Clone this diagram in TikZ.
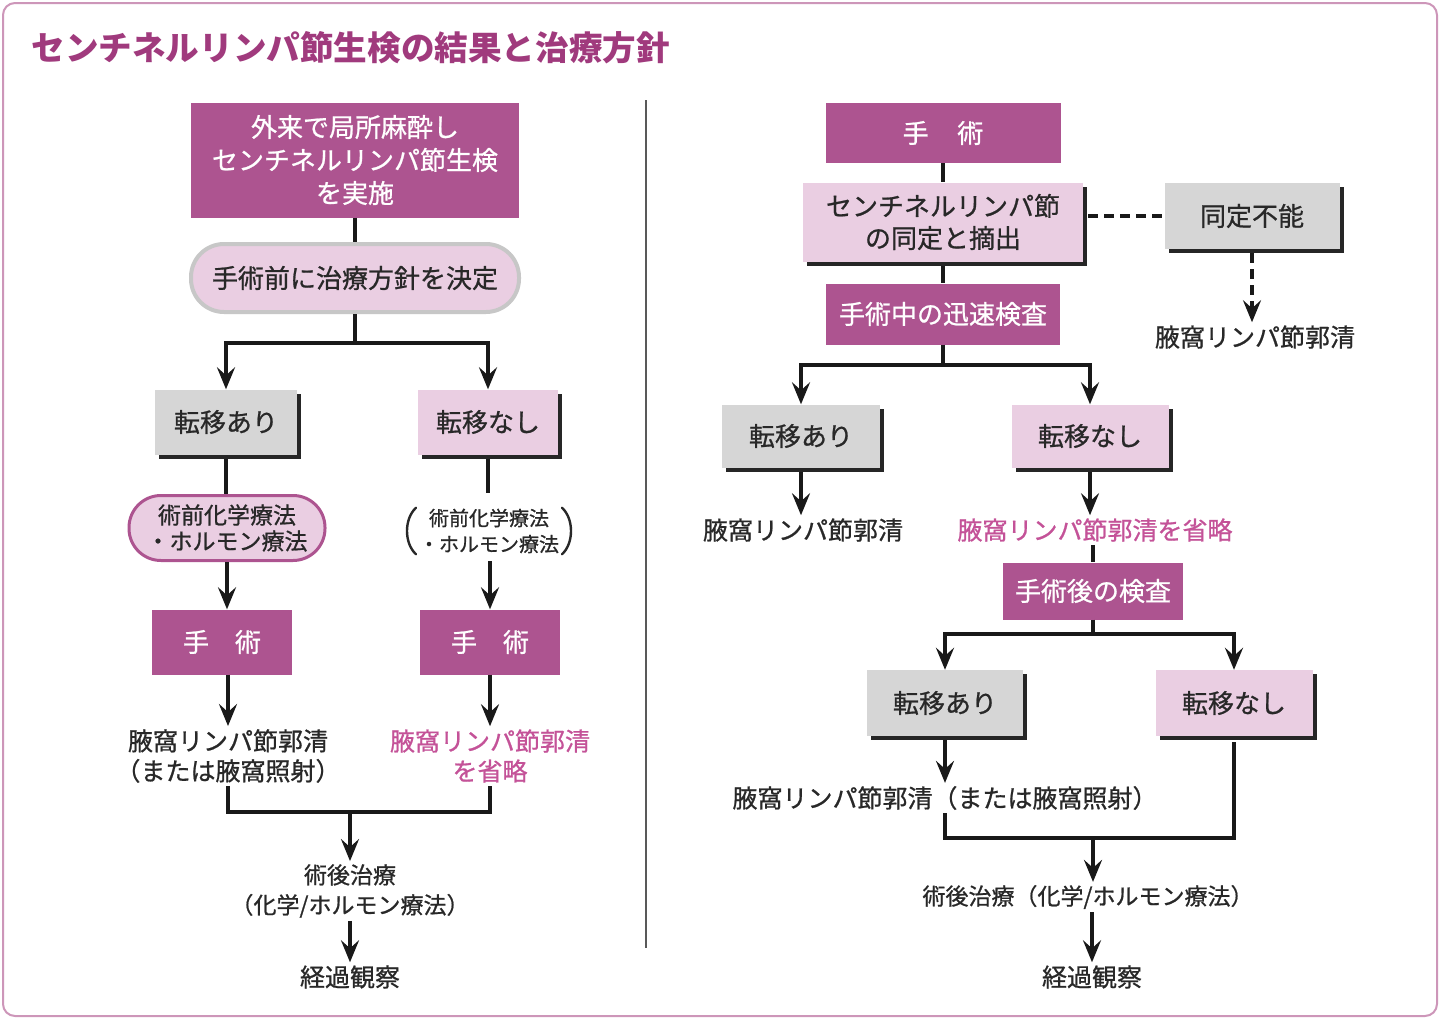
\documentclass[tikz,border=0pt]{standalone}
\usepackage{fontspec}
\setmainfont{Noto Sans CJK JP}
\newfontfamily\bodyf{Noto Sans CJK JP}[FakeBold=0.8]
\usetikzlibrary{arrows.meta,shadows,calc}
\definecolor{magbox}{RGB}{173,84,144}
\definecolor{pinkbox}{RGB}{234,206,226}
\definecolor{graybox}{RGB}{214,214,214}
\definecolor{titlecol}{RGB}{160,58,125}
\definecolor{pinktext}{RGB}{196,82,152}
\definecolor{framecol}{RGB}{205,150,185}
\definecolor{txt}{RGB}{40,40,40}
\newcommand{\fsz}[2]{\bodyf\fontsize{#1pt}{#2pt}\selectfont}
\begin{document}
\begin{tikzpicture}[x=1pt,y=-1pt,
  magnode/.style={fill=magbox,text=white,inner sep=0pt,align=center,font=\fsz{26}{33}},
  pinknode/.style={fill=pinkbox,text=txt,inner sep=0pt,align=center,font=\fsz{26}{32},
    drop shadow={shadow xshift=4pt,shadow yshift=-4pt,fill=black!85,opacity=1}},
  graynode/.style={fill=graybox,text=txt,inner sep=0pt,align=center,font=\fsz{26}{32},
    drop shadow={shadow xshift=4pt,shadow yshift=-4pt,fill=black!85,opacity=1}},
  plain/.style={text=txt,align=center,inner sep=3pt,font=\fsz{25}{30}},
  pinkplain/.style={text=pinktext,align=center,inner sep=3pt,font=\fsz{25}{30}},
  conn/.style={line width=4.5pt,draw=black!90},
  arr/.style={conn,-{Stealth[length=22pt,width=18pt,inset=8pt]}},
  dashconn/.style={line width=3.5pt,draw=black!90,dash pattern=on 10pt off 6pt},
  paren/.style={line width=2.4pt,draw=txt,line cap=round},
]
\useasboundingbox (0,0) rectangle (1440,1020);
\draw[framecol,line width=2pt,rounded corners=12pt,fill=white] (3,3) rectangle (1437,1016);

\node[anchor=west,text=titlecol,font=\fontsize{33.6}{36}\selectfont\bfseries] (title) at (28,48) {センチネルリンパ節生検の結果と治療方針};

% divider
\draw[black!65,line width=1.5pt] (646,100) -- (646,948);

% ---------- left ----------
\node[magnode,minimum width=328pt,minimum height=115pt] (A) at (355,160) {外来で局所麻酔し\\センチネルリンパ節生検\\を実施};
\node[fill=pinkbox,draw=black!22,line width=4pt,rounded corners=33pt,minimum width=328pt,minimum height=68pt,inner sep=0pt,text=txt,font=\fsz{26}{30}] (B) at (355,278) {手術前に治療方針を決定};
\node[graynode,minimum width=142pt,minimum height=65pt] (C) at (226,422) {転移あり};
\node[pinknode,minimum width=140pt,minimum height=65pt] (D) at (488,422) {転移なし};
\node[fill=pinkbox,draw=magbox,line width=3pt,rounded corners=32pt,minimum width=196pt,minimum height=65pt,inner sep=0pt,text=txt,align=center,font=\fsz{23}{26}] (E) at (227,528) {術前化学療法\\・ホルモン療法};
\node[text=txt,inner sep=0pt,outer sep=0pt,minimum width=164pt,minimum height=42pt,align=center,font=\fsz{20}{26}] (P) at (489,531) {術前化学療法\\・ホルモン療法};
\draw[paren] ([xshift=9pt,yshift=1pt]P.north west) .. controls ([xshift=-3pt,yshift=-10pt]P.north west) and ([xshift=-3pt,yshift=10pt]P.south west) .. ([xshift=9pt,yshift=-1pt]P.south west);
\draw[paren] ([xshift=-9pt,yshift=1pt]P.north east) .. controls ([xshift=3pt,yshift=-10pt]P.north east) and ([xshift=3pt,yshift=10pt]P.south east) .. ([xshift=-9pt,yshift=-1pt]P.south east);
\node[magnode,minimum width=140pt,minimum height=65pt] (F) at (222,642) {手\hspace{1em}術};
\node[magnode,minimum width=140pt,minimum height=65pt] (G) at (490,642) {手\hspace{1em}術};
\node[plain] (H) at (228,756) {腋窩リンパ節郭清\\（または腋窩照射）};
\node[pinkplain] (I) at (490,756) {腋窩リンパ節郭清\\を省略};
\node[plain,font=\fsz{23}{30}] (J) at (350,891) {術後治療\\（化学/ホルモン療法）};
\node[plain] (K) at (350,977) {経過観察};

\coordinate (Bj) at (355,343);
\coordinate (Hj) at (350,812);
\draw[conn] (A.south) -- (B.north);
\draw[conn] (B.south) -- (Bj);
\draw[arr] (Bj) -| (C.north);
\draw[arr] (Bj) -| (D.north);
\draw[conn] ([yshift=-4pt]C.south) -- (C.south |- E.north);
\draw[conn] ([yshift=-4pt]D.south) -- ([yshift=16pt]D.south |- P.north);
\draw[arr] (E.south) -- (E.south |- F.north);
\draw[arr] ([yshift=-8pt]P.south -| G.north) -- (G.north);
\draw[arr] (F.south -| H.north) -- (H.north);
\draw[arr] (G.south) -- (I.north);
\draw[conn] (H.south) |- (Hj) -| (I.south);
\draw[arr] (Hj) -- (J.north);
\draw[arr] (J.south) -- (K.north);

% ---------- right ----------
\node[magnode,minimum width=235pt,minimum height=60pt] (R1) at (943,133) {手\hspace{1.1em}術};
\node[pinknode,minimum width=280pt,minimum height=79pt] (R2) at (943,222) {センチネルリンパ節\\の同定と摘出};
\node[graynode,minimum width=175pt,minimum height=66pt] (R3) at (1252,216) {同定不能};
\node[plain] (T1) at (1255,337) {腋窩リンパ節郭清};
\node[magnode,minimum width=234pt,minimum height=61pt] (R4) at (943,314) {手術中の迅速検査};
\node[graynode,minimum width=158pt,minimum height=63pt] (R5) at (801,436) {転移あり};
\node[pinknode,minimum width=157pt,minimum height=63pt] (R6) at (1090,436) {転移なし};
\node[plain] (T2) at (803,530) {腋窩リンパ節郭清};
\node[pinkplain] (T3) at (1095,530) {腋窩リンパ節郭清を省略};
\node[magnode,minimum width=180pt,minimum height=57pt] (R7) at (1093,591) {手術後の検査};
\node[graynode,minimum width=156pt,minimum height=66pt] (R8) at (945,703) {転移あり};
\node[pinknode,minimum width=157pt,minimum height=66pt] (R9) at (1234,703) {転移なし};
\node[plain] (T4) at (945,798) {腋窩リンパ節郭清（または腋窩照射）};
\node[plain,font=\fsz{23}{30}] (T5) at (1088,897) {術後治療（化学/ホルモン療法）};
\node[plain] (T6) at (1092,977) {経過観察};

\coordinate (R4j) at (943,365);
\coordinate (R7j) at (1093,634);
\coordinate (T4j) at (1093,838);
\draw[conn] (R1.south) -- (R2.north);
\draw[conn] ([yshift=-4pt]R2.south) -- (R4.north);
\draw[dashconn] ([xshift=5pt]R3.west -| R2.east) -- (R3.west);
\draw[dashconn,-{Stealth[length=22pt,width=18pt,inset=8pt]}] ([yshift=-4pt]R3.south) -- (R3.south |- T1.north);
\draw[conn] (R4.south) -- (R4j);
\draw[arr] (R4j) -| (R5.north);
\draw[arr] (R4j) -| (R6.north);
\draw[arr] ([yshift=-4pt]R5.south) -- (R5.south |- T2.north);
\draw[arr] ([yshift=-4pt]R6.south) -- (R6.south |- T3.north);
\draw[conn] (T3.south -| R7.north) -- (R7.north);
\draw[conn] (R7.south) -- (R7j);
\draw[arr] (R7j) -| (R8.north);
\draw[arr] (R7j) -| (R9.north);
\draw[arr] ([yshift=-4pt]R8.south) -- (T4.north);
\draw[conn] (T4.south) |- (T4j) -| ([yshift=-6pt]R9.south);
\draw[arr] (T4j) -- (T4j |- T5.north);
\draw[arr] (T5.south -| T6.north) -- (T6.north);
\end{tikzpicture}
\end{document}
